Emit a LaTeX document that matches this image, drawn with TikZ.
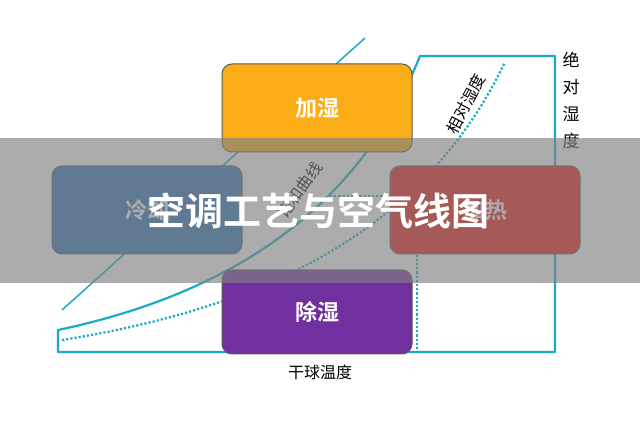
\documentclass[tikz,border=0pt]{standalone}
\usepackage{fontspec}
\setmainfont{Noto Sans CJK SC}
\newfontfamily\cjkbold{Noto Sans CJK SC Bold}
\usetikzlibrary{positioning}
\definecolor{chartline}{HTML}{1BA9C6}
\definecolor{humbox}{HTML}{FBAD18}
\definecolor{coolbox}{HTML}{2A6FB7}
\definecolor{heatbox}{HTML}{EE140B}
\definecolor{drybox}{HTML}{7030A0}
\tikzset{
	procbox/.style={draw=black!65,line width=1pt,rounded corners=10pt,minimum width=190pt,minimum height=88pt,text=white,font=\cjkbold\fontsize{22}{22}\selectfont},
	axislabel/.style={font=\fontsize{16}{19}\selectfont,inner sep=0pt},
	rhdots/.style={chartline,line width=2.2pt,dotted}
}
\begin{document}
\begin{tikzpicture}[x=1pt,y=-1pt]
	\useasboundingbox (0,0) rectangle (640,427);
	% chart outline
	\draw[chartline,line width=2.2pt,line join=round] (58,330) .. controls (200,300) and (350,230) .. (420,56) -- (555,56) -- (555,352) -- (58,352) -- cycle;
	\draw[chartline,line width=1.5pt] (62,310) -- (365,38);
	\draw[rhdots] (62,340) .. controls (250,310) and (420,240) .. (505,62);
	\draw[rhdots] (330,196) -- (392,196);
	\draw[rhdots] (417,200) -- (417,350);

	% labels
	\node[axislabel,rotate=62] (rh) at (466,104) {相对湿度};
	\node[axislabel,rotate=55] (sat) at (300,190) {饱和曲线};
	\node[axislabel,align=center,font=\fontsize{17}{27}\selectfont] (abs) at (571,100) {绝\\对\\湿\\度};
	\node[axislabel] (dry) at (320,372) {干球温度};

	% process boxes
	\node[procbox,fill=humbox] (hum) at (317,108) {加湿};
	\node[procbox,fill=coolbox] (cool) at (147,210) {冷却};
	\node[procbox,fill=heatbox] (heat) at (485,210) {加热};
	\node[procbox,fill=drybox,minimum height=84pt] (dehum) at (317,312) {除湿};

	% title banner
	\fill[black!50,opacity=0.65] (0,138) rectangle (640,283);
	\node[text=white,font=\cjkbold\fontsize{38}{38}\selectfont] (title) at (318,211) {空调工艺与空气线图};
\end{tikzpicture}
\end{document}
